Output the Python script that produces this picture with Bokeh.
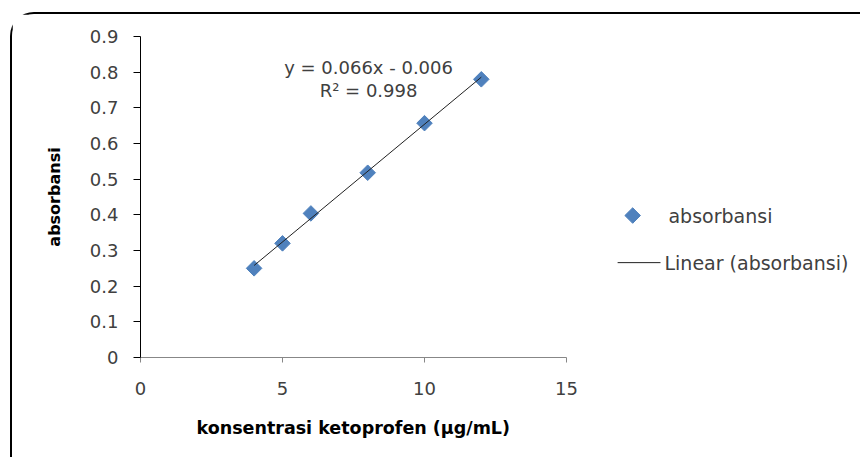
import numpy as np
from bokeh.plotting import figure
from bokeh.models import Range1d, FixedTicker, Title
from bokeh.core.properties import value
from bokeh.embed import file_html
from bokeh.resources import INLINE

# Data
konsentrasi = [4, 5, 6, 8, 10, 12]
absorbansi = [0.25, 0.32, 0.404, 0.518, 0.657, 0.78]
slope = 0.066
intercept = -0.006
equation_lines = ["y = 0.066x - 0.006", "R\u00b2 = 0.998"]
legend_labels = ["absorbansi", "Linear (absorbansi)"]
x_title = "konsentrasi ketoprofen (\u03bcg/mL)"
y_title = "absorbansi"
x_ticks = [0, 5, 10, 15]
y_ticks = [0, 0.1, 0.2, 0.3, 0.4, 0.5, 0.6, 0.7, 0.8, 0.9]

FONT = "DejaVu Sans"
TXT = "#404040"
BLUE = "#4F81BD"

# frame spans x 0..15 over 426 px; widened to the right to hold the legend
PX_PER_X = 426 / 15.0
FRAME_W = 722
x_end = FRAME_W / PX_PER_X

p = figure(width=850, height=445, output_backend="svg", toolbar_location=None,
           x_range=Range1d(0, x_end), y_range=Range1d(0, 0.9),
           min_border_left=128, min_border_right=0, min_border_top=22, min_border_bottom=102)
p.styles = {"margin-left": "10px", "margin-top": "12px",
            "border-left": "2px solid #000", "border-top": "2px solid #000",
            "border-top-left-radius": "24px"}
p.outline_line_color = None
p.xgrid.visible = False
p.ygrid.visible = False

# markers
p.scatter(konsentrasi, absorbansi, marker="square", angle=np.pi / 4, size=11,
          fill_color=BLUE, line_color=BLUE)
# trend line
xl = [min(konsentrasi), max(konsentrasi)]
yl = [slope * v + intercept for v in xl]
p.line(xl, yl, line_color="#202020", line_width=1)

# equation text
p.text(x=[8.03, 8.03], y=[0.813, 0.749], text=equation_lines, text_align="center",
       text_baseline="middle", text_font=value(FONT), text_font_size="18px", text_color=TXT)

# legend (drawn as keys + labels to the right of the axes)
lg_x = 16.8          # left of legend key area (data units)
lg_y = [0.398, 0.266]
p.scatter([lg_x + 0.53], [lg_y[0]], marker="square", angle=np.pi / 4, size=11,
          fill_color=BLUE, line_color=BLUE)
p.line([lg_x, lg_x + 1.51], [lg_y[1], lg_y[1]], line_color="#202020", line_width=1)
p.text(x=[lg_x + 1.79, lg_x + 1.65], y=lg_y, text=legend_labels, text_align="left",
       text_baseline="middle", text_font=value(FONT), text_font_size="19px", text_color=TXT)

# axes
for ax in (p.xaxis, p.yaxis):
    ax.major_label_text_font = FONT
    ax.major_label_text_font_size = "18px"
    ax.major_label_text_color = TXT
    ax.minor_tick_line_color = None
    ax.major_tick_in = 0
    ax.axis_label_text_font = FONT
    ax.axis_label_text_font_style = "bold"
    ax.axis_label_text_color = "#000000"

p.xaxis.bounds = (0, 15)
p.xaxis.ticker = FixedTicker(ticks=x_ticks)
p.yaxis.ticker = FixedTicker(ticks=y_ticks)
p.yaxis.major_label_overrides = {0: "0"}
p.xaxis.axis_line_color = "#878787"
p.xaxis.major_tick_line_color = "#878787"
p.xaxis.major_tick_out = 5
p.xaxis.major_label_standoff = 19
p.yaxis.axis_line_color = "#000000"
p.yaxis.major_tick_line_color = "#000000"
p.yaxis.major_tick_out = 7
p.yaxis.major_label_standoff = 15

p.yaxis.axis_label = y_title
p.yaxis.axis_label_text_font_size = "16px"
p.yaxis.axis_label_standoff = 23

# x title, left-aligned so that it centres under the 0..15 axis span
xt = Title(text=x_title, align="left", offset=56, standoff=37,
           text_font=FONT, text_font_size="17.5px", text_font_style="bold",
           text_color="#000000")
p.add_layout(xt, "below")

open("out.html", "w").write(file_html(p, INLINE))
